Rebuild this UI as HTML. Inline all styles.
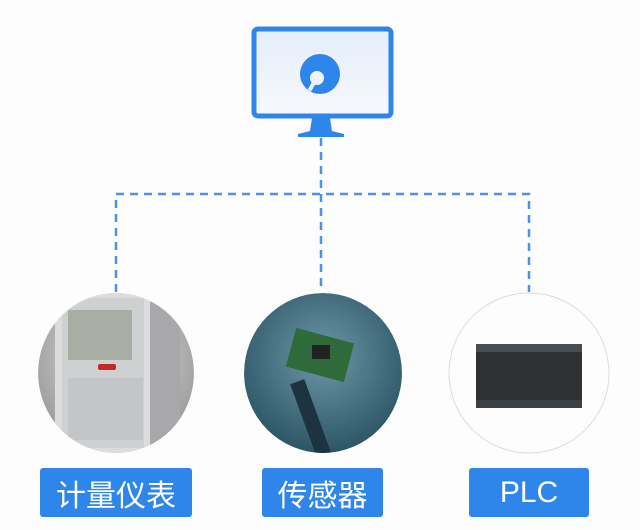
<!DOCTYPE html>
<html><head><meta charset="utf-8"><style>
html,body{margin:0;padding:0;background:#fdfdfd;}
.lab{position:absolute;background:#2f86ea;border-radius:3px;color:#fff;font-family:"Liberation Sans","Noto Sans CJK SC",sans-serif;font-size:30px;display:flex;align-items:center;justify-content:center;}
</style></head><body>
<div style="position:relative;width:640px;height:530px;overflow:hidden;">
<svg width="640" height="530" style="position:absolute;left:0;top:0">
<defs>
<linearGradient id="scr" x1="0" y1="0" x2="0" y2="1"><stop offset="0" stop-color="#e6eef9"/><stop offset="1" stop-color="#f6f8fc"/></linearGradient>
<radialGradient id="g1" cx="0.5" cy="0.4" r="0.6"><stop offset="0" stop-color="#e2e2e2"/><stop offset="1" stop-color="#9a9a9c"/></radialGradient>
<radialGradient id="g2" cx="0.5" cy="0.4" r="0.6"><stop offset="0" stop-color="#6e98a8"/><stop offset="1" stop-color="#2c5666"/></radialGradient>
<clipPath id="c1"><ellipse cx="116" cy="373" rx="78" ry="80"/></clipPath>
<clipPath id="c2"><ellipse cx="323" cy="373" rx="79" ry="80"/></clipPath>
</defs>
<g stroke="#4a94e2" stroke-width="2.5" stroke-dasharray="8,6" fill="none">
<line x1="321" y1="138" x2="321" y2="292"/>
<polyline points="116,292 116,194 529,194 529,292"/>
</g>
<rect x="254" y="29" width="137" height="87" rx="4" fill="url(#scr)" stroke="#2f86ea" stroke-width="5"/>
<path d="M312 118 L330 118 L332 131 L344 134 L344 137 L298 137 L298 134 L310 131 Z" fill="#2f86ea"/>
<circle cx="320" cy="74" r="20" fill="#2f86ea"/>
<circle cx="317" cy="78" r="7" fill="#f0f4fa"/>
<rect x="310" y="82" width="4" height="9" fill="#f0f4fa" transform="rotate(30 312 86)"/>
<g clip-path="url(#c1)">
<ellipse cx="116" cy="373" rx="78" ry="80" fill="url(#g1)"/>
<rect x="55" y="290" width="105" height="170" fill="#dcdcde"/>
<rect x="62" y="298" width="82" height="150" fill="#cfd0d2"/>
<rect x="68" y="310" width="64" height="50" fill="#a9aea5"/>
<rect x="98" y="364" width="18" height="6" rx="2" fill="#c62828"/>
<rect x="68" y="378" width="75" height="62" fill="#c4c5c8"/>
<rect x="150" y="290" width="30" height="170" fill="#a8a8aa"/>
</g>
<g clip-path="url(#c2)">
<ellipse cx="323" cy="373" rx="79" ry="80" fill="url(#g2)"/>
<rect x="290" y="335" width="60" height="40" fill="#2e6a3a" transform="rotate(15 320 355)"/>
<rect x="312" y="345" width="18" height="14" fill="#222"/>
<rect x="300" y="380" width="15" height="80" fill="#1d3340" transform="rotate(-20 307 410)"/>
</g>
<ellipse cx="529" cy="373" rx="80" ry="80" fill="#fdfdfd" stroke="#dcdcdc" stroke-width="1"/>
<rect x="476" y="344" width="106" height="64" fill="#2e3134"/>
<rect x="476" y="344" width="106" height="8" fill="#4a4e52"/>
<rect x="476" y="400" width="106" height="8" fill="#3c4043"/>
</svg>
<div class="lab" style="left:40px;top:468px;width:152px;height:49px;">计量仪表</div>
<div class="lab" style="left:262px;top:468px;width:121px;height:49px;">传感器</div>
<div class="lab" style="left:469px;top:468px;width:120px;height:49px;">PLC</div>
</div>
</body></html>
